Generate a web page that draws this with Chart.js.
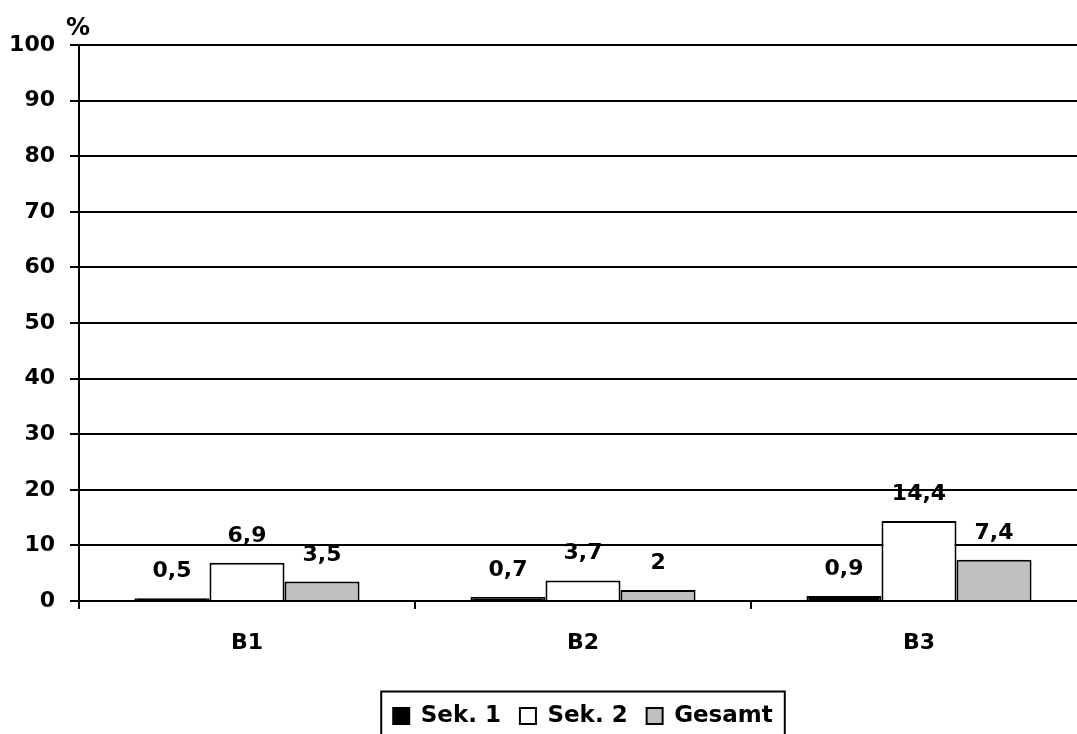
<!DOCTYPE html>
<html>
<head>
<meta charset="utf-8">
<script src="https://cdn.jsdelivr.net/npm/chart.js@4"></script>
<style>
  html, body { margin: 0; padding: 0; background: #fff; overflow: hidden; }
  /* Zeichenfläche ragt rechts etwas über den Rand hinaus, wie im Original */
  #wrap { width: 1077px; height: 734px; overflow: hidden; }
</style>
</head>
<body>
<div id="wrap"><canvas id="chart" width="1090" height="734"></canvas></div>
<script>
// Daten
const categories = ['B1', 'B2', 'B3'];
const sek1 = [0.5, 0.7, 0.9];
const sek2 = [6.9, 3.7, 14.4];
const gesamt = [3.5, 2, 7.4];
const yTicks = [0, 10, 20, 30, 40, 50, 60, 70, 80, 90, 100];

const FAMILY = '"DejaVu Sans", "Liberation Sans", Arial, sans-serif';
const FONT = { family: FAMILY, weight: 'bold', size: 22 };

// Werte über den Balken + Einheit
const valueLabels = {
  id: 'valueLabels',
  afterDatasetsDraw(chart) {
    const ctx = chart.ctx;
    ctx.save();
    ctx.font = 'bold 22px ' + FAMILY;
    ctx.fillStyle = '#000';
    ctx.textAlign = 'center';
    ctx.textBaseline = 'alphabetic';
    chart.data.datasets.forEach((ds, i) => {
      chart.getDatasetMeta(i).data.forEach((bar, j) => {
        const txt = String(ds.data[j]).replace('.', ',');
        ctx.fillText(txt, bar.x, bar.y - 21);
      });
    });
    ctx.font = 'bold 24px ' + FAMILY;
    ctx.fillText('%', 78, 35);
    ctx.restore();
  }
};

// Rahmen um die Legende
const legendBorder = {
  id: 'legendBorder',
  afterDraw(chart) {
    const items = chart.legend.legendHitBoxes;
    if (!items || !items.length) return;
    const first = items[0], last = items[items.length - 1];
    const ctx = chart.ctx;
    ctx.save();
    ctx.strokeStyle = '#000';
    ctx.lineWidth = 2;
    const left = first.left - 12;
    const right = last.left + last.width + 12;
    const top = first.top - 13;
    ctx.strokeRect(left, top, right - left, 80);
    ctx.restore();
  }
};

new Chart(document.getElementById('chart'), {
  type: 'bar',
  data: {
    labels: categories,
    datasets: [
      { label: 'Sek. 1', data: sek1, backgroundColor: '#000000', borderColor: '#000', borderWidth: 2 },
      { label: 'Sek. 2', data: sek2, backgroundColor: '#ffffff', borderColor: '#000', borderWidth: 2 },
      { label: 'Gesamt', data: gesamt, backgroundColor: '#c0c0c0', borderColor: '#000', borderWidth: 2 },
    ],
  },
  options: {
    responsive: false,
    animation: false,
    devicePixelRatio: 1,
    layout: { padding: { top: 45, left: 0, right: 3, bottom: -3.5 } },
    datasets: { bar: { categoryPercentage: 0.67, barPercentage: 1 } },
    scales: {
      x: {
        grid: { display: true, drawOnChartArea: false, offset: true, color: '#000', lineWidth: 2, tickLength: 8 },
        border: { color: '#000', width: 2 },
        ticks: { color: '#000', font: FONT, padding: 21 },
        afterFit(scale) { scale.height = 84.5; },
      },
      y: {
        min: 0,
        max: 100,
        afterBuildTicks(scale) { scale.ticks = yTicks.map(v => ({ value: v })); },
        grid: { color: '#000', lineWidth: 2, tickLength: 9 },
        border: { color: '#000', width: 2 },
        ticks: { color: '#000', font: FONT, padding: 15 },
        afterFit(scale) { scale.width = 79; },
      },
    },
    plugins: {
      legend: {
        position: 'bottom',
        fullSize: false,
        labels: {
          color: '#000',
          font: { family: FAMILY, weight: 'bold', size: 23 },
          boxWidth: 16,
          boxHeight: 16,
          padding: 19,
        },
      },
      tooltip: { enabled: false },
    },
  },
  plugins: [valueLabels, legendBorder],
});
</script>
</body>
</html>
